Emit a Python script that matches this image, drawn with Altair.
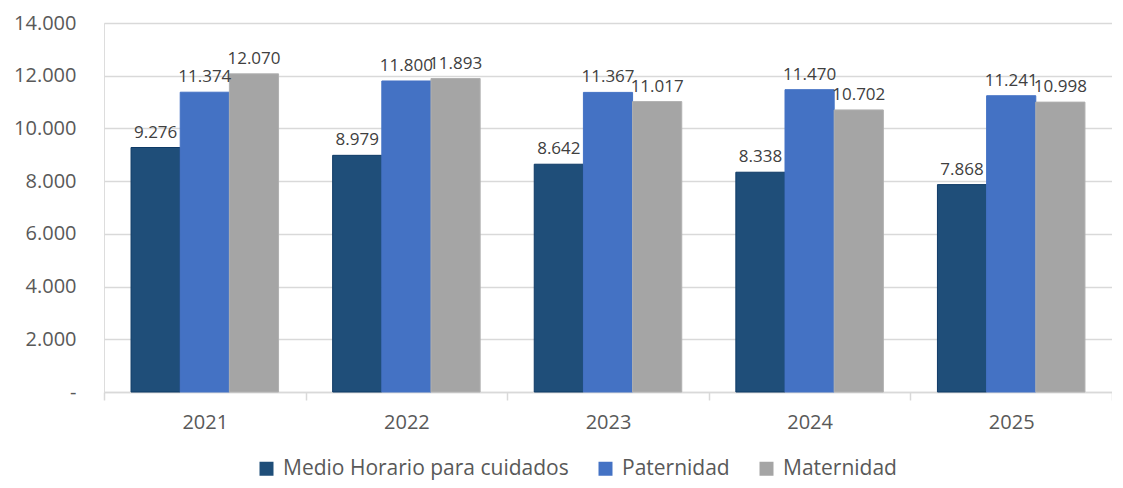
import altair as alt
import pandas as pd

years = ["2021", "2022", "2023", "2024", "2025"]
series = ["Medio Horario para cuidados", "Paternidad", "Maternidad"]
medio = [9276, 8979, 8642, 8338, 7868]
paternidad = [11374, 11800, 11367, 11470, 11241]
maternidad = [12070, 11893, 11017, 10702, 10998]
colors = ["#1F4E79", "#4472C4", "#A5A5A5"]

rows = []
for i, y in enumerate(years):
    for s, vals in zip(series, [medio, paternidad, maternidad]):
        rows.append({"year": y, "serie": s, "value": vals[i]})
df = pd.DataFrame(rows)

FONT = "Open Sans"

x = alt.X("year:N", title=None, sort=years,
          scale=alt.Scale(paddingInner=0, paddingOuter=0),
          axis=alt.Axis(labelAngle=0, labelFontSize=20, labelColor="#595959", labelFont=FONT,
                        domainColor="#D9D9D9", domainWidth=1.5, ticks=True, tickBand="extent",
                        tickColor="#D9D9D9", tickSize=8, tickWidth=1.5, labelPadding=12, grid=False))
xo = alt.XOffset("serie:N", sort=series, scale=alt.Scale(paddingInner=0, paddingOuter=0.55))

base = alt.Chart(df).encode(x=x, xOffset=xo)

bars = base.mark_bar(strokeWidth=1).encode(
    y=alt.Y("value:Q", title=None,
            scale=alt.Scale(domain=[0, 14000], nice=False),
            axis=alt.Axis(values=[0, 2000, 4000, 6000, 8000, 10000, 12000, 14000],
                          labelExpr="datum.value == 0 ? '-' : replace(format(datum.value, ','), ',', '.')",
                          labelFontSize=20, labelColor="#595959", labelFont=FONT, labelPadding=28,
                          domain=False, ticks=False, gridColor="#D9D9D9", gridWidth=1.5)),
    color=alt.Color("serie:N", sort=series,
                    scale=alt.Scale(domain=series, range=colors),
                    legend=alt.Legend(title=None, orient="none", direction="horizontal",
                                      legendX=152, legendY=435,
                                      symbolType="square", symbolSize=196, symbolStrokeWidth=0,
                                      labelFontSize=21, labelColor="#595959", labelFont=FONT,
                                      labelLimit=400, columnPadding=26, labelOffset=6)),
    stroke=alt.Stroke("serie:N", sort=series,
                      scale=alt.Scale(domain=series, range=["#0E3A66", "#4472C4", "#B0B0B0"]),
                      legend=None),
)

labels = base.mark_text(baseline="bottom", dy=-6, fontSize=17, color="#404040", font=FONT).encode(
    y=alt.Y("value:Q"),
    text=alt.Text("label:N"),
).transform_calculate(label="replace(format(datum.value, ','), ',', '.')")

chart = alt.layer(bars, labels).properties(
    width=1008, height=369,
    autosize=alt.AutoSizeParams(type="none"),
    padding={"left": 96, "top": 15, "right": 0, "bottom": 88},
).configure_view(stroke=None).configure(background="white")

chart.save("out.html", embed_options={"renderer": "svg", "actions": False})
